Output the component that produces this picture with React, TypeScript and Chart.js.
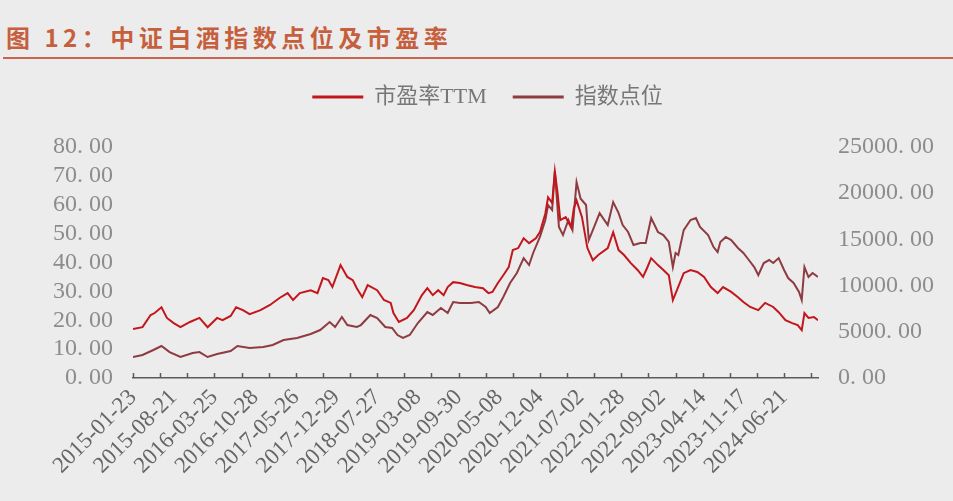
import React, { useEffect, useRef } from 'react';
import { Chart, ChartConfiguration, registerables } from 'chart.js';

Chart.register(...registerables);

// x axis is in weeks from 2015-01-23; a date label every 30 weeks
const dateLabels = [
  '2015-01-23', '2015-08-21', '2016-03-25', '2016-10-28', '2017-05-26',
  '2017-12-29', '2018-07-27', '2019-03-08', '2019-09-30', '2020-05-08',
  '2020-12-04', '2021-07-02', '2022-01-28', '2022-09-02', '2023-04-14',
  '2023-11-17', '2024-06-21'
];
const weeksPerLabel = 30;
const weeksPerTick = 20;
const lastWeek = 505;

const peWeeks = [
  0, 7, 13, 16, 21, 25, 30, 35, 42, 49, 55, 62, 66, 72, 76, 81, 86, 94, 101, 108,
  114, 118, 123, 131, 136, 140, 144, 147, 153, 158, 162, 165, 169, 173, 180, 185, 190, 192, 196, 202,
  207, 213, 217, 221, 225, 229, 232, 236, 241, 246, 252, 258, 262, 265, 269, 273, 277, 280, 284, 288,
  292, 297, 300, 304, 306, 309, 311, 313, 315, 319, 323, 325, 327, 331, 335, 339, 343, 350, 354, 358,
  362, 367, 372, 376, 379, 382, 387, 391, 395, 398, 401, 406, 411, 416, 421, 426, 431, 435, 441, 446,
  450, 455, 461, 466, 472, 476, 481, 486, 490, 493, 495, 498, 502, 505
];
const peValues = [
  17.0, 17.6, 21.8, 22.5, 24.5, 20.8, 19.0, 17.6, 19.4, 20.8, 17.6, 20.8, 20.0, 21.5, 24.5, 23.5, 22.1, 23.5, 25.3, 27.7,
  29.4, 27.0, 29.4, 30.4, 29.4, 34.6, 33.9, 31.5, 39.1, 35.0, 33.9, 31.1, 28.0, 32.2, 30.4, 27.0, 26.0, 22.5, 19.4, 20.8,
  23.5, 28.7, 31.1, 28.7, 30.4, 28.7, 31.5, 33.2, 32.9, 32.2, 31.5, 31.1, 29.4, 29.8, 32.9, 35.6, 38.4, 44.3, 45.0, 48.4,
  46.7, 48.4, 50.5, 57.0, 62.6, 60.6, 71.5, 64.0, 54.7, 55.7, 52.2, 58.8, 61.5, 55.7, 45.0, 40.8, 42.6, 45.0, 50.5, 44.3,
  42.6, 39.8, 37.4, 35.0, 38.1, 41.5, 39.1, 37.4, 35.6, 27.0, 30.4, 36.3, 37.4, 36.7, 35.0, 31.5, 29.4, 31.5, 29.8, 28.0,
  26.3, 24.6, 23.5, 26.0, 24.6, 22.8, 20.0, 19.0, 18.3, 16.6, 22.5, 20.8, 21.1, 20.0
];

const indexWeeks = [
  0, 7, 15, 21, 27, 35, 44, 49, 55, 62, 72, 77, 86, 96, 103, 111, 121, 131, 138, 145,
  149, 154, 158, 165, 168, 175, 180, 186, 191, 195, 199, 204, 210, 217, 221, 227, 232, 236, 241, 249,
  255, 260, 263, 269, 273, 278, 283, 288, 292, 295, 300, 304, 306, 309, 311, 314, 317, 321, 324, 327,
  330, 334, 336, 339, 344, 350, 354, 358, 361, 365, 369, 374, 378, 382, 387, 391, 395, 398, 400, 402,
  406, 411, 415, 418, 424, 428, 431, 433, 437, 441, 446, 450, 454, 458, 461, 465, 469, 472, 476, 480,
  483, 487, 491, 493, 495, 498, 501, 505
];
const indexValues = [
  2270, 2490, 3030, 3460, 2810, 2270, 2700, 2810, 2270, 2600, 2920, 3460, 3250, 3350, 3570, 4110, 4330, 4760, 5190, 6060,
  5520, 6600, 5730, 5520, 5730, 6820, 6490, 5520, 5410, 4650, 4330, 4650, 5950, 7140, 6820, 7570, 7030, 8220, 8120, 8120,
  8220, 7680, 7030, 7680, 8760, 10280, 11360, 12980, 12230, 13530, 15260, 17100, 18720, 18180, 22400, 16340, 15470, 17100, 16010, 21200,
  19400, 18720, 14930, 16010, 17850, 16550, 19040, 17850, 16550, 15800, 14390, 14610, 14610, 17310, 15800, 15470, 14720, 12010, 13530, 13310,
  16010, 17100, 17310, 16340, 15470, 14170, 13630, 14720, 15260, 14930, 14070, 13530, 12770, 12010, 11140, 12440, 12770, 12440, 12980, 11690,
  10820, 10280, 9310, 8440, 12010, 10930, 11360, 10930
];

const peColor = '#c3161c';
const indexColor = '#8e3b41';
const serif = "'Liberation Serif', 'Noto Sans CJK SC', serif";

const fmt = (v: number) => v.toFixed(2).replace('.', '. ');

// small tick marks pointing up from the x axis line
const axisTicks = {
  id: 'axisTicks',
  afterDraw(chart: Chart) {
    const xs = chart.scales.x;
    const { ctx, chartArea } = chart;
    ctx.save();
    ctx.strokeStyle = '#5a5a5a';
    ctx.lineWidth = 1.5;
    for (let w = 0; w <= lastWeek; w += weeksPerTick) {
      const px = Math.round(xs.getPixelForValue(w)) + 0.5;
      ctx.beginPath();
      ctx.moveTo(px, chartArea.bottom);
      ctx.lineTo(px, chartArea.bottom - 5);
      ctx.stroke();
    }
    ctx.restore();
  }
};

// extra room between the legend and the plot
const legendGap = {
  id: 'legendGap',
  beforeLayout(chart: any) {
    const legend = chart.legend;
    if (!legend || legend._gapPatched) return;
    const fit = legend.fit;
    legend.fit = function () {
      fit.call(this);
      this.height += 29;
    };
    legend._gapPatched = true;
  }
};

const BaijiuChart: React.FC = () => {
  const canvasRef = useRef<HTMLCanvasElement>(null);
  const chartRef = useRef<Chart | null>(null);

  useEffect(() => {
    if (!canvasRef.current) return;
    if (chartRef.current) chartRef.current.destroy();

    const config: ChartConfiguration = {
      type: 'line',
      data: {
        datasets: [
          {
            label: '市盈率TTM',
            data: peWeeks.map((w, i) => ({ x: w, y: peValues[i] })),
            borderColor: peColor,
            backgroundColor: peColor,
            borderWidth: 2,
            pointRadius: 0,
            tension: 0,
            yAxisID: 'y'
          },
          {
            label: '指数点位',
            data: indexWeeks.map((w, i) => ({ x: w, y: indexValues[i] })),
            borderColor: indexColor,
            backgroundColor: indexColor,
            borderWidth: 2,
            pointRadius: 0,
            tension: 0,
            yAxisID: 'y1'
          }
        ]
      },
      options: {
        animation: false,
        responsive: true,
        maintainAspectRatio: false,
        layout: { padding: { left: 22, top: 0, right: 0, bottom: 0 } },
        scales: {
          x: {
            type: 'linear',
            min: 0,
            max: lastWeek,
            afterBuildTicks: (scale) => {
              const ticks = [];
              for (let w = 0; w <= lastWeek; w += 10) ticks.push({ value: w });
              scale.ticks = ticks;
            },
            afterFit: (scale) => { scale.height = 123; },
            grid: { display: false, drawTicks: false },
            border: { display: true, color: '#5a5a5a', width: 1.5 },
            ticks: {
              autoSkip: false,
              minRotation: 45,
              maxRotation: 45,
              padding: 6,
              color: '#666666',
              font: { family: serif, size: 23 },
              callback: (v) => {
                const n = Number(v);
                return n % weeksPerLabel === 0 ? dateLabels[n / weeksPerLabel] ?? '' : '';
              }
            }
          },
          y: {
            position: 'left',
            min: 0,
            max: 80,
            afterFit: (scale) => { scale.width = 111; },
            grid: { display: false, drawTicks: false },
            border: { display: false },
            ticks: {
              stepSize: 10,
              autoSkip: false,
              padding: 20,
              color: '#8c8c8c',
              font: { family: serif, size: 24 },
              callback: (v) => fmt(Number(v))
            }
          },
          y1: {
            position: 'right',
            min: 0,
            max: 25000,
            afterFit: (scale) => { scale.width = 135; },
            grid: { display: false, drawTicks: false },
            border: { display: false },
            ticks: {
              stepSize: 5000,
              autoSkip: false,
              padding: 20,
              color: '#8c8c8c',
              font: { family: serif, size: 24 },
              callback: (v) => fmt(Number(v))
            }
          }
        },
        plugins: {
          legend: {
            display: true,
            position: 'top',
            labels: {
              boxWidth: 51,
              boxHeight: 3,
              padding: 26,
              color: '#777777',
              font: { family: serif, size: 22 },
              generateLabels: (chart) =>
                chart.data.datasets.map((ds, i) => ({
                  text: ds.label as string,
                  fillStyle: ds.borderColor as string,
                  strokeStyle: ds.borderColor as string,
                  fontColor: '#777777',
                  lineWidth: 0,
                  hidden: false,
                  datasetIndex: i
                }))
            }
          },
          tooltip: { enabled: false }
        }
      },
      plugins: [axisTicks, legendGap]
    };

    chartRef.current = new Chart(canvasRef.current, config);

    return () => {
      if (chartRef.current) {
        chartRef.current.destroy();
        chartRef.current = null;
      }
    };
  }, []);

  return (
    <div style={{ position: 'absolute', left: 0, top: 60, width: 953, height: 441 }}>
      <canvas ref={canvasRef} />
    </div>
  );
};

export default function App() {
  return (
    <div
      style={{
        position: 'fixed',
        left: 0,
        top: 0,
        width: 953,
        height: 501,
        background: '#ececec',
        overflow: 'hidden'
      }}
    >
      <div
        style={{
          position: 'absolute',
          left: 6,
          top: 25,
          fontFamily: "'Noto Sans CJK SC', sans-serif",
          fontWeight: 700,
          fontSize: 24,
          lineHeight: 1,
          letterSpacing: 4.5,
          color: '#c65f3d',
          whiteSpace: 'nowrap'
        }}
      >
        图 12：中证白酒指数点位及市盈率
      </div>
      <div
        style={{
          position: 'absolute',
          left: 3,
          top: 57,
          width: 950,
          height: 2,
          background: '#c9654c'
        }}
      />
      <BaijiuChart />
    </div>
  );
}
